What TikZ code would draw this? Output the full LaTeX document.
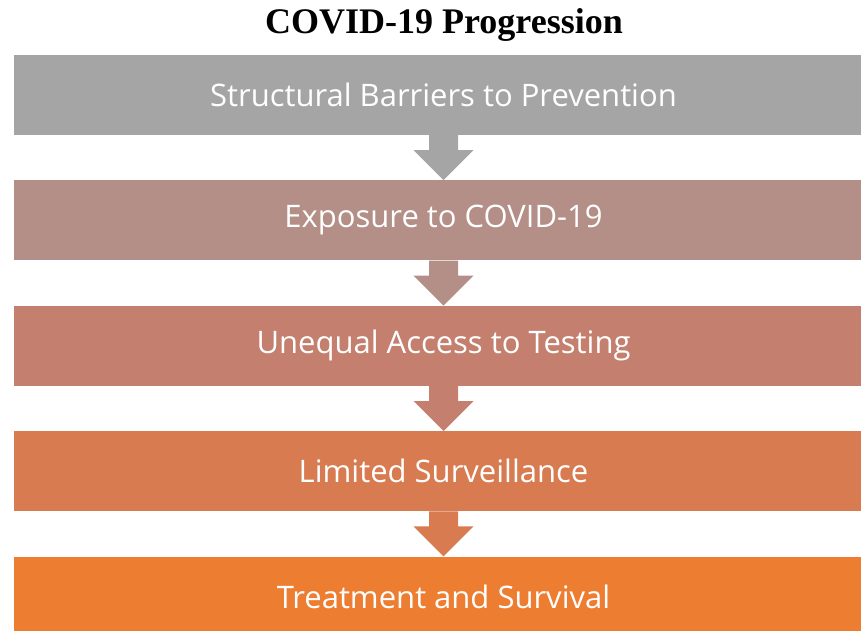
\documentclass[tikz,border=0pt]{standalone}
\usepackage{fontspec}
\setmainfont{Open Sans}
\newfontfamily\headfont{Liberation Serif}
\definecolor{stepgray}{RGB}{165,165,165}
\definecolor{steprose}{RGB}{179,143,135}
\definecolor{stepclay}{RGB}{196,127,110}
\definecolor{stepcopper}{RGB}{216,123,80}
\definecolor{steporange}{RGB}{237,125,49}
\usetikzlibrary{positioning, calc}

\begin{document}
\begin{tikzpicture}[x=1pt, y=1pt,
        stage/.style={minimum width=859pt, minimum height=80pt, inner sep=0pt,
            text=white, font=\fontsize{31}{36}\selectfont}]
    \useasboundingbox (0,0) rectangle (861,-631);
    \node[anchor=base, font=\headfont\bfseries\fontsize{36}{42}\selectfont] (title) at (444,-34) {COVID-19 Progression};
    \node[stage, fill=stepgray] (barriers) at (443.5,-95) {Structural Barriers to Prevention};
    \node[stage, fill=steprose, below=45pt of barriers] (exposure) {Exposure to COVID-19};
    \node[stage, fill=stepclay, below=45pt of exposure] (testing) {Unequal Access to Testing};
    \node[stage, fill=stepcopper, below=45pt of testing] (surveillance) {Limited Surveillance};
    \node[stage, fill=steporange, below=45pt of surveillance] (treatment) {Treatment and Survival};
    % block arrows between the stages
    \foreach \a/\b/\c in {barriers/exposure/stepgray, exposure/testing/steprose,
            testing/surveillance/stepclay, surveillance/treatment/stepcopper}
        \fill[\c] ($(\a.south)+(-14.5,0)$) -- ++(0,-15) -- ++(-15.5,0) -- (\b.north)
            -- ($(\a.south)+(30,-15)$) -- ++(-15.5,0) -- ++(0,15) -- cycle;
\end{tikzpicture}
\end{document}
